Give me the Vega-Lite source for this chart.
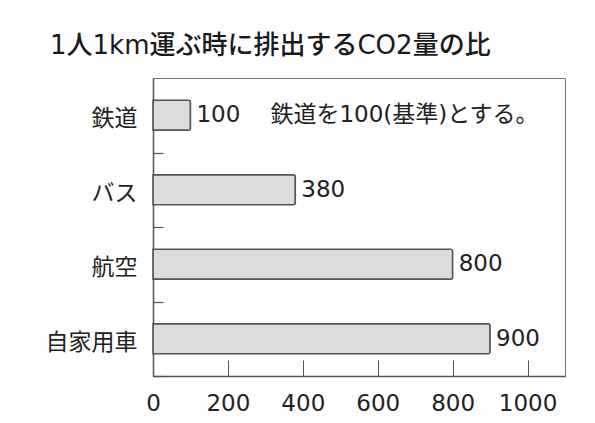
{
  "$schema": "https://vega.github.io/schema/vega-lite/v6.json",
  "autosize": "none",
  "width": 412,
  "height": 298,
  "padding": {"left": 153, "top": 78, "right": 30, "bottom": 47},
  "background": "white",
  "title": {
    "text": "1人1km運ぶ時に排出するCO2量の比",
    "anchor": "start",
    "frame": "group",
    "dx": -103,
    "offset": 19,
    "font": "DejaVu Sans, Noto Sans CJK JP",
    "fontSize": 26,
    "fontWeight": 500,
    "color": "#1a1a1a"
  },
  "config": {
    "view": {"stroke": "#777777", "strokeWidth": 1},
    "font": "DejaVu Sans, Noto Sans CJK JP"
  },
  "data": {
    "values": [
      {"mode": "鉄道", "value": 100, "note": "鉄道を100(基準)とする。"},
      {"mode": "バス", "value": 380, "note": ""},
      {"mode": "航空", "value": 800, "note": ""},
      {"mode": "自家用車", "value": 900, "note": ""}
    ]
  },
  "encoding": {
    "y": {
      "field": "mode",
      "type": "nominal",
      "sort": null,
      "scale": {"paddingInner": 0.6, "paddingOuter": 0.3},
      "axis": {
        "title": null,
        "tickOffset": 37.25,
        "tickSize": -10,
        "tickWidth": 1.2,
        "tickColor": "#555555",
        "labelPadding": 26,
        "labelOffset": -34,
        "labelFontSize": 23,
        "labelColor": "#222222",
        "labelFont": "DejaVu Sans, Noto Sans CJK JP",
        "domainColor": "#555555",
        "domainWidth": 1.5
      }
    },
    "x": {
      "field": "value",
      "type": "quantitative",
      "scale": {"domain": [0, 1100], "nice": false},
      "axis": {
        "title": null,
        "grid": false,
        "values": [0, 200, 400, 600, 800, 1000],
        "format": "d",
        "tickSize": -16,
        "tickColor": "#555555",
        "labelPadding": 32,
        "labelFontSize": 23,
        "labelColor": "#222222",
        "labelFont": "DejaVu Sans, Noto Sans CJK JP",
        "labelFlush": false,
        "domainColor": "#555555",
        "domainWidth": 1.5
      }
    }
  },
  "layer": [
    {
      "mark": {
        "type": "bar",
        "fill": "#dcdcdc",
        "stroke": "#555555",
        "strokeWidth": 1.5,
        "cornerRadiusEnd": 2
      }
    },
    {
      "mark": {
        "type": "text",
        "align": "left",
        "baseline": "middle",
        "dx": 6,
        "fontSize": 23,
        "color": "#222222",
        "font": "DejaVu Sans, Noto Sans CJK JP"
      },
      "encoding": {"text": {"field": "value", "type": "quantitative", "format": "d"}}
    },
    {
      "mark": {
        "type": "text",
        "align": "left",
        "baseline": "middle",
        "dx": 80,
        "fontSize": 23,
        "color": "#222222",
        "font": "DejaVu Sans, Noto Sans CJK JP"
      },
      "encoding": {"text": {"field": "note", "type": "nominal"}}
    }
  ]
}
